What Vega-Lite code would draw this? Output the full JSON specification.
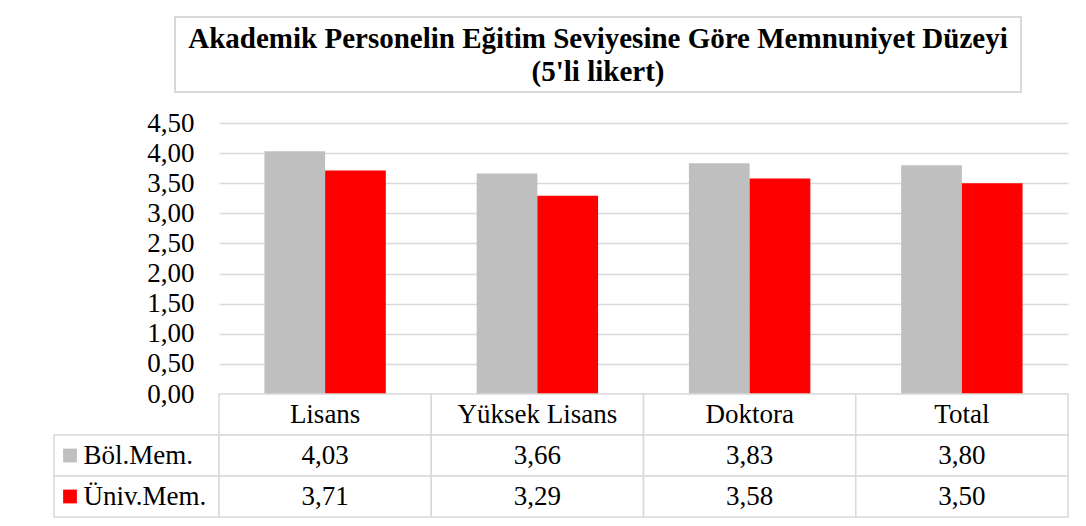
{
  "$schema": "https://vega.github.io/schema/vega-lite/v6.json",
  "padding": {"left": 53, "top": 16, "right": 19, "bottom": 10},
  "background": "white",
  "config": {
    "font": "Liberation Serif",
    "view": {"stroke": null},
    "locale": {"number": {"decimal": ",", "thousands": ".", "grouping": [3], "currency": ["", " TL"]}}
  },
  "datasets": {
    "memnuniyet": [
      {"kategori": "Lisans", "seri": "Böl.Mem.", "deger": 4.03},
      {"kategori": "Lisans", "seri": "Üniv.Mem.", "deger": 3.71},
      {"kategori": "Yüksek Lisans", "seri": "Böl.Mem.", "deger": 3.66},
      {"kategori": "Yüksek Lisans", "seri": "Üniv.Mem.", "deger": 3.29},
      {"kategori": "Doktora", "seri": "Böl.Mem.", "deger": 3.83},
      {"kategori": "Doktora", "seri": "Üniv.Mem.", "deger": 3.58},
      {"kategori": "Total", "seri": "Böl.Mem.", "deger": 3.80},
      {"kategori": "Total", "seri": "Üniv.Mem.", "deger": 3.50}
    ],
    "baslik": [
      {"metin": ["Akademik Personelin Eğitim Seviyesine Göre Memnuniyet Düzeyi", "(5'li likert)"]}
    ]
  },
  "spacing": 0,
  "vconcat": [
    {
      "spacing": 0,
      "bounds": "flush",
      "hconcat": [
        {
          "width": 121, "height": 92,
          "data": {"values": [{}]},
          "mark": {"type": "point", "opacity": 0},
          "encoding": {}
        },
        {
          "width": 846, "height": 75,
          "data": {"name": "baslik"},
          "view": {"stroke": "#d9d9d9", "strokeWidth": 2},
          "mark": {"type": "text", "fontSize": 29, "fontWeight": "bold", "lineHeight": 33, "baseline": "alphabetic", "dy": -7, "align": "center", "color": "#000000", "font": "Liberation Serif"},
          "encoding": {"text": {"field": "metin", "type": "nominal"}}
        }
      ]
    },
    {
      "columns": 2,
      "spacing": 0,
      "bounds": "flush",
      "concat": [
        {
          "width": 165, "height": 271,
          "data": {"values": [{}]},
          "mark": {"type": "point", "opacity": 0},
          "encoding": {}
        },
        {
          "width": 849, "height": 271,
          "data": {"name": "memnuniyet"},
          "mark": {"type": "bar"},
          "encoding": {
            "x": {"field": "kategori", "type": "nominal", "sort": ["Lisans", "Yüksek Lisans", "Doktora", "Total"], "scale": {"paddingInner": 0.428, "paddingOuter": 0.214}, "axis": null},
            "xOffset": {"field": "seri", "type": "nominal", "sort": ["Böl.Mem.", "Üniv.Mem."]},
            "y": {
              "field": "deger", "type": "quantitative",
              "scale": {"domain": [0, 4.5], "nice": false},
              "axis": {
                "values": [0, 0.5, 1, 1.5, 2, 2.5, 3, 3.5, 4, 4.5],
                "format": ".2f",
                "title": null,
                "grid": true, "gridColor": "#d9d9d9", "gridWidth": 1.5,
                "domain": false, "ticks": false,
                "labelFont": "Liberation Serif", "labelFontSize": 27, "labelColor": "#000000",
                "labelPadding": 25, "labelOverlap": false, "labelFlush": false
              }
            },
            "color": {"field": "seri", "type": "nominal", "scale": {"domain": ["Böl.Mem.", "Üniv.Mem."], "range": ["#bfbfbf", "#ff0000"]}, "legend": null}
          }
        },
        {
          "width": 165, "height": 123,
          "data": {"name": "memnuniyet"},
          "transform": [{"filter": "datum.kategori === 'Lisans'"}],
          "encoding": {
            "y": {"field": "seri", "type": "nominal", "scale": {"domain": ["baslik", "Böl.Mem.", "Üniv.Mem."], "paddingInner": 0, "paddingOuter": 0}, "axis": null}
          },
          "layer": [
            {"mark": {"type": "rect", "fill": "white", "stroke": "#d9d9d9", "strokeWidth": 1.5}},
            {
              "mark": {"type": "square", "size": 190, "opacity": 1, "filled": true, "xOffset": -66.5},
              "encoding": {"color": {"field": "seri", "type": "nominal", "scale": {"domain": ["Böl.Mem.", "Üniv.Mem."], "range": ["#bfbfbf", "#ff0000"]}, "legend": null}}
            },
            {
              "mark": {"type": "text", "align": "left", "baseline": "middle", "dx": -53, "fontSize": 27, "color": "#000000", "font": "Liberation Serif"},
              "encoding": {"text": {"field": "seri", "type": "nominal"}}
            }
          ]
        },
        {
          "width": 849, "height": 123,
          "data": {"name": "memnuniyet"},
          "encoding": {
            "x": {"field": "kategori", "type": "nominal", "sort": ["Lisans", "Yüksek Lisans", "Doktora", "Total"], "scale": {"paddingInner": 0, "paddingOuter": 0}, "axis": null}
          },
          "layer": [
            {
              "transform": [{"filter": "datum.seri === 'Böl.Mem.'"}],
              "mark": {"type": "rect", "fill": "white", "stroke": "#d9d9d9", "strokeWidth": 1.5},
              "encoding": {"y": {"datum": "baslik", "type": "nominal", "scale": {"domain": ["baslik", "Böl.Mem.", "Üniv.Mem."], "paddingInner": 0, "paddingOuter": 0}, "axis": null}}
            },
            {
              "mark": {"type": "rect", "fill": "white", "stroke": "#d9d9d9", "strokeWidth": 1.5},
              "encoding": {"y": {"field": "seri", "type": "nominal", "axis": null}}
            },
            {
              "transform": [{"filter": "datum.seri === 'Böl.Mem.'"}],
              "mark": {"type": "text", "align": "center", "baseline": "middle", "fontSize": 27, "color": "#000000", "font": "Liberation Serif"},
              "encoding": {
                "y": {"datum": "baslik", "type": "nominal", "axis": null},
                "text": {"field": "kategori", "type": "nominal"}
              }
            },
            {
              "mark": {"type": "text", "align": "center", "baseline": "middle", "fontSize": 27, "color": "#000000", "font": "Liberation Serif"},
              "encoding": {
                "y": {"field": "seri", "type": "nominal", "axis": null},
                "text": {"field": "deger", "type": "quantitative", "format": ".2f"}
              }
            }
          ]
        }
      ]
    }
  ]
}
